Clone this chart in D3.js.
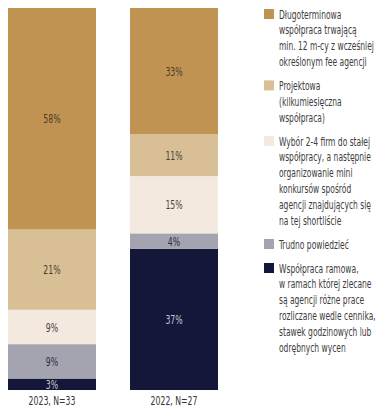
<!DOCTYPE html>
<html>
<head>
<meta charset="utf-8">
<script src="https://cdn.jsdelivr.net/npm/d3@7"></script>
<style>
  html, body { margin: 0; padding: 0; background: #fff; }
  svg { display: block; }
  text { font-family: "DejaVu Sans Condensed", "Liberation Sans Narrow", sans-serif; }
</style>
</head>
<body>
<svg id="chart" width="379" height="410"></svg>
<script>
// Survey groups (x axis)
const groups = ["2023, N=33", "2022, N=27"];

// Series, stacked bottom to top
const seriesKeys = ["ramowa", "trudno", "wybor", "projektowa", "dlugoterminowa"];

// Shares in percent per group, same order as groups
const ramowa         = [3, 37];
const trudno         = [9, 4];
const wybor          = [9, 15];
const projektowa     = [21, 11];
const dlugoterminowa = [58, 33];

const colors = {
  dlugoterminowa: "#c09352",
  projektowa:     "#d8bf96",
  wybor:          "#f3e9de",
  trudno:         "#a3a4b0",
  ramowa:         "#14173a"
};
const labelColors = {
  dlugoterminowa: "#4a3c2c",
  projektowa:     "#4a3f33",
  wybor:          "#4a4540",
  trudno:         "#2c2f48",
  ramowa:         "#c3c5d0"
};

// Legend entries, top to bottom, each split into its drawn lines
const legendKeys = ["dlugoterminowa", "projektowa", "wybor", "trudno", "ramowa"];
const legendLines = [
  ["Długoterminowa", "współpraca trwającą", "min. 12 m-cy z wcześniej", "określonym fee agencji"],
  ["Projektowa", "(kilkumiesięczna", "współpraca)"],
  ["Wybór 2-4 firm do stałej", "współpracy, a następnie", "organizowanie mini", "konkursów spośród", "agencji znajdujących się", "na tej shortliście"],
  ["Trudno powiedzieć"],
  ["Współpraca ramowa,", "w ramach której zlecane", "są agencji różne prace", "rozliczane wedle cennika,", "stawek godzinowych lub", "odrębnych wycen"]
];

const valuesByKey = { ramowa, trudno, wybor, projektowa, dlugoterminowa };
const table = groups.map((g, i) => {
  const row = { group: g };
  seriesKeys.forEach(k => { row[k] = valuesByKey[k][i]; });
  return row;
});

const svg = d3.select("#chart");
const squeeze = 0.72;       // horizontal condensing of labels
const legendSqueeze = 0.70; // horizontal condensing of legend text

const x = d3.scaleBand().domain(groups).range([8, 218]).paddingInner(0.2787).paddingOuter(0);
const y = d3.scaleLinear().domain([0, 100]).range([390, 8]);

const stacked = d3.stack().keys(seriesKeys)(table);

const layers = svg.append("g").selectAll("g")
  .data(stacked)
  .join("g")
  .attr("fill", d => colors[d.key]);

layers.selectAll("rect")
  .data(d => d.map(p => ({ key: d.key, p })))
  .join("rect")
  .attr("x", d => x(d.p.data.group))
  .attr("width", x.bandwidth())
  .attr("y", d => y(d.p[1]))
  .attr("height", d => y(d.p[0]) - y(d.p[1]));

// Value labels in the middle of each segment
layers.selectAll("text")
  .data(d => d.map(p => ({ key: d.key, p })))
  .join("text")
  .attr("transform", d => `translate(${x(d.p.data.group) + x.bandwidth() / 2},${(y(d.p[0]) + y(d.p[1])) / 2}) scale(${squeeze},1)`)
  .attr("text-anchor", "middle")
  .attr("dominant-baseline", "central")
  .attr("font-size", 12)
  .attr("fill", d => labelColors[d.key])
  .text(d => `${d.p.data[d.key]}%`);

// Group labels under the bars
const xAxis = svg.append("g")
  .attr("transform", "translate(0,390)")
  .call(d3.axisBottom(x).tickSize(0).tickPadding(6));
xAxis.select(".domain").remove();
xAxis.selectAll("text")
  .attr("font-family", null)
  .attr("font-size", 12)
  .attr("fill", "#333")
  .attr("transform", `scale(${squeeze},1)`);
xAxis.selectAll(".tick")
  .attr("transform", d => `translate(${x(d) + x.bandwidth() / 2},0)`);

// Legend
const lineStep = 15.8;
const itemGap = 24;
let yCursor = 14;
const legend = svg.append("g");
legendKeys.forEach((k, i) => {
  const g = legend.append("g");
  g.append("rect")
    .attr("x", 264).attr("y", yCursor - 5)
    .attr("width", 10).attr("height", 10)
    .attr("fill", colors[k]);
  legendLines[i].forEach((line, j) => {
    g.append("text")
      .attr("transform", `translate(279,${yCursor + j * lineStep}) scale(${legendSqueeze},1)`)
      .attr("dominant-baseline", "central")
      .attr("font-size", 12)
      .attr("fill", "#3d3d3d")
      .text(line);
  });
  yCursor += (legendLines[i].length - 1) * lineStep + itemGap;
});
</script>
</body>
</html>
